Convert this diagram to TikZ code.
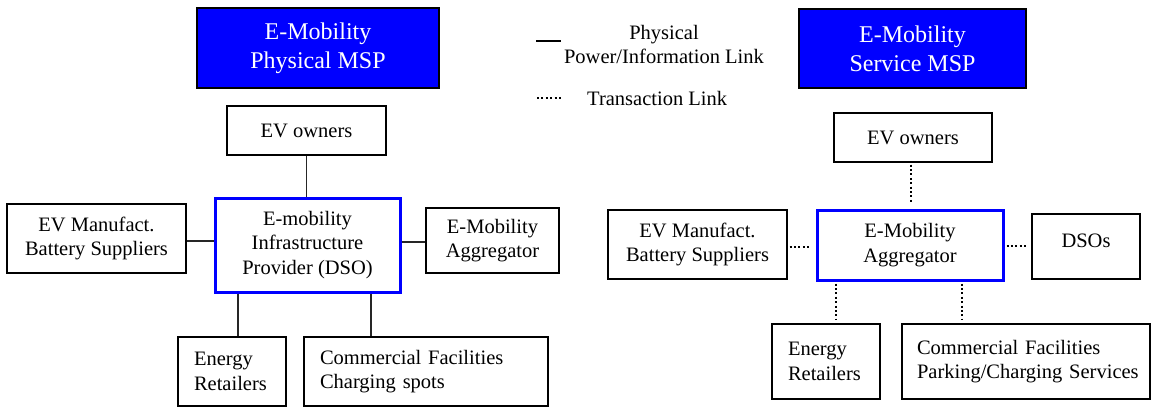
\documentclass[tikz,border=0pt]{standalone}
\usepackage{fontspec}
\setmainfont{Liberation Serif}
\definecolor{mspblue}{RGB}{0,0,255}
\newcommand{\bodyfont}{\fontsize{20.5}{24.5}\selectfont}
\newcommand{\headfont}{\fontsize{24}{29}\selectfont}
\tikzset{
  box/.style={draw=black, line width=1.3pt, inner sep=0pt, align=center, font=\bodyfont},
  hub/.style={box, draw=mspblue, line width=3pt},
  leftbox/.style={box, align=left},
  headbox/.style={draw=black, line width=1.8pt, fill=mspblue, text=white,
                  align=center, font=\headfont, inner sep=0pt},
  phys/.style={draw=black!85, line width=1.5pt},
  trans/.style={draw=black, line width=2pt, dash pattern=on 2pt off 2.4pt},
  legendtext/.style={font=\bodyfont, inner sep=0pt}
}
\begin{document}
\begin{tikzpicture}[x=1pt, y=-1pt]
  \useasboundingbox (0,0) rectangle (1152,407);

  % ---------- physical market ----------
  \node[headbox, minimum width=242pt, minimum height=80pt] (ptitle) at (318,48)
       {E-Mobility\\Physical MSP};
  \node[box, minimum width=159pt, minimum height=49pt] (powners) at (306.5,130.5) {EV owners};
  \node[box, minimum width=179pt, minimum height=69pt] (pmanuf) at (96.5,238.5)
       {EV Manufact.\\Battery Suppliers};
  \node[hub, minimum width=185pt, minimum height=94pt] (pdso) at (307.5,245)
       {E-mobility\\Infrastructure\\Provider (DSO)};
  \node[box, minimum width=133pt, minimum height=65pt] (pagg) at (492.5,240.5)
       {E-Mobility\\Aggregator};
  \node[leftbox, minimum width=108pt, minimum height=69pt, text width=76pt] (pret) at (232,371.5)
       {Energy\\Retailers};
  \node[leftbox, minimum width=244pt, minimum height=69pt, text width=212pt] (pfac) at (426,371.5)
       {\mbox{Commercial Facilities}\\\mbox{Charging spots}};

  \coordinate (pretx) at (238,0);
  \coordinate (pfacx) at (371,0);

  \draw[phys] (powners.south) -- (powners.south |- pdso.north);
  \draw[phys] (pmanuf.east |- 0,241) -- (pdso.west |- 0,241);
  \draw[phys] (pdso.east |- 0,242) -- (pagg.west |- 0,242);
  \draw[phys] (pdso.south -| pretx) -- (pret.north -| pretx);
  \draw[phys] (pdso.south -| pfacx) -- (pfac.north -| pfacx);

  % ---------- legend ----------
  \coordinate (lsa) at (536,41);
  \coordinate (lsb) at (561,41);
  \coordinate (lta) at (537,98);
  \coordinate (ltb) at (562,98);
  \draw[phys, draw=black] (lsa) -- (lsb);
  \draw[trans] (lta) -- (ltb);
  \node[legendtext, align=center] (lphys) at (664,44.5) {Physical\\Power/Information Link};
  \node[legendtext, anchor=west] (ltrans) at (587,98) {Transaction Link};

  % ---------- service market ----------
  \node[headbox, minimum width=227pt, minimum height=79pt] (stitle) at (912.5,48.5)
       {E-Mobility\\Service MSP};
  \node[box, minimum width=158pt, minimum height=49pt] (sowners) at (913,137.5) {EV owners};
  \node[box, minimum width=179pt, minimum height=69pt] (smanuf) at (697.5,244.5)
       {EV Manufact.\\Battery Suppliers};
  \node[hub, minimum width=186pt, minimum height=70pt] (sagg) at (910,245)
       {E-Mobility\\Aggregator};
  \node[box, minimum width=108pt, minimum height=65pt] (sdso) at (1086,246.5)
       {\raisebox{11pt}{DSOs}};
  \node[leftbox, minimum width=108pt, minimum height=75pt, text width=76pt] (sret) at (826,361.5)
       {Energy\\Retailers};
  \node[leftbox, minimum width=248pt, minimum height=75pt, text width=218pt] (sfac) at (1026,361.5)
       {\mbox{Commercial Facilities}\\\mbox{Parking/Charging Services}};

  \coordinate (sretx) at (836,0);
  \coordinate (sfacx) at (962,0);

  \draw[trans, shorten <=2pt, shorten >=7pt] (sowners.south -| 911,0) -- (sagg.north -| 911,0);
  \draw[trans, shorten <=2pt, shorten >=4pt] (smanuf.east |- 0,247) -- (sagg.west |- 0,247);
  \draw[trans, shorten <=2pt, shorten >=4pt] (sagg.east |- 0,246) -- (sdso.west |- 0,246);
  \draw[trans, shorten <=2pt, shorten >=4pt] (sagg.south -| sretx) -- (sret.north -| sretx);
  \draw[trans, shorten <=2pt, shorten >=4pt] (sagg.south -| sfacx) -- (sfac.north -| sfacx);
\end{tikzpicture}
\end{document}
